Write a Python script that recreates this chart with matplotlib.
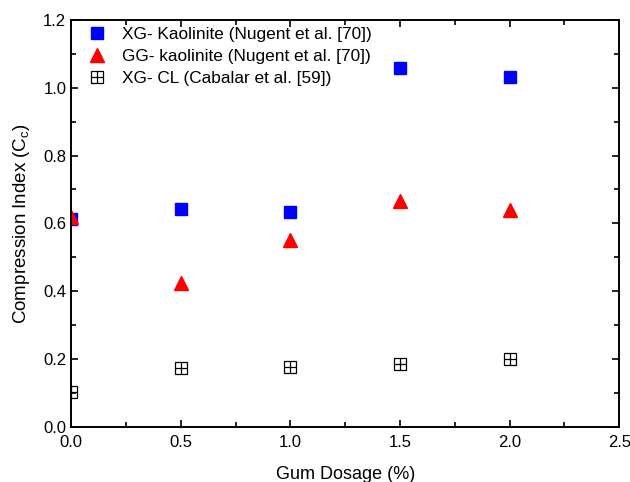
import matplotlib
matplotlib.use("Agg")
import matplotlib.pyplot as plt
from matplotlib.ticker import MultipleLocator, FormatStrFormatter

plt.rcParams['font.family'] = ['Liberation Sans', 'DejaVu Sans']
plt.rcParams['mathtext.default'] = 'regular'

dosage = [0.0, 0.5, 1.0, 1.5, 2.0]
xg_kaolinite = [0.613, 0.642, 0.635, 1.057, 1.030]
gg_kaolinite = [0.620, 0.424, 0.550, 0.665, 0.640]
xg_cl = [0.103, 0.174, 0.177, 0.186, 0.200]

fig = plt.figure(figsize=(6.3, 4.82), dpi=100)
ax = fig.add_axes([0.113, 0.114, 0.870, 0.845])

h1, = ax.plot(dosage, xg_kaolinite, 's', color='#0000ff', ms=8, mec='#0000ff')
h2, = ax.plot(dosage, gg_kaolinite, '^', color='#ff0000', ms=10, mec='#ff0000')
h3a, = ax.plot(dosage, xg_cl, 's', mfc='none', mec='black', ms=8, mew=0.9)
h3b, = ax.plot(dosage, xg_cl, '+', color='black', ms=8, mew=0.9)

ax.legend([h1, h2, (h3a, h3b)],
          ["XG- Kaolinite (Nugent et al. [70])",
           "GG- kaolinite (Nugent et al. [70])",
           "XG- CL (Cabalar et al. [59])"],
          loc='upper left', frameon=False, fontsize=12.4,
          handlelength=1.2, handletextpad=0.85, borderaxespad=0.0,
          labelspacing=0.4, bbox_to_anchor=(0.016, 1.0))

ax.set_xlim(0, 2.5)
ax.set_ylim(0, 1.2)
ax.xaxis.set_major_locator(MultipleLocator(0.5))
ax.xaxis.set_minor_locator(MultipleLocator(0.25))
ax.yaxis.set_major_locator(MultipleLocator(0.2))
ax.yaxis.set_minor_locator(MultipleLocator(0.1))
ax.xaxis.set_major_formatter(FormatStrFormatter('%.1f'))
ax.yaxis.set_major_formatter(FormatStrFormatter('%.1f'))
ax.tick_params(which='both', direction='in', top=True, right=True, labelsize=12)
ax.tick_params(axis='x', pad=6)
ax.tick_params(which='major', length=5, width=1.2)
ax.tick_params(which='minor', length=3.5, width=1.2)
for s in ax.spines.values():
    s.set_linewidth(1.4)

ax.set_xlabel("Gum Dosage (%)", fontsize=13, labelpad=11)
ax.set_ylabel("Compression Index (C$_c$)", fontsize=13.5, labelpad=8)

fig.savefig("out.png", dpi=100)
